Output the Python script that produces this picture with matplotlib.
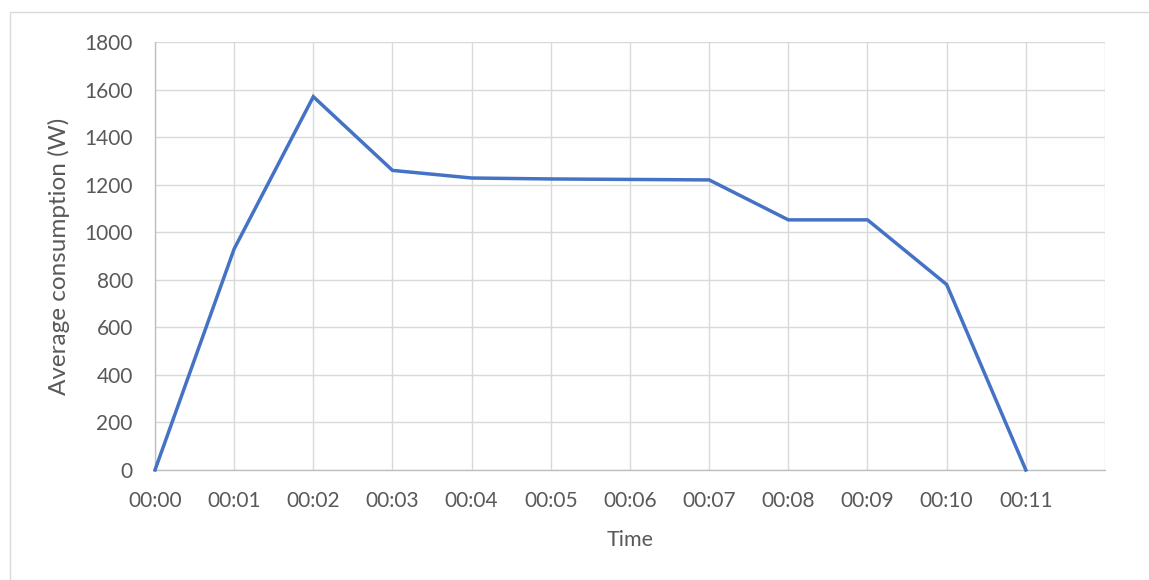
import matplotlib
matplotlib.use('Agg')
import matplotlib.pyplot as plt
from matplotlib.patches import Rectangle

# ── 資料 ──────────────────────────────────────────────
times = ['00:00', '00:01', '00:02', '00:03', '00:04', '00:05',
         '00:06', '00:07', '00:08', '00:09', '00:10', '00:11']
consumption = [0, 930, 1570, 1260, 1228, 1224, 1222, 1220, 1052, 1052, 780, 0]
y_ticks = [0, 200, 400, 600, 800, 1000, 1200, 1400, 1600, 1800]

TEXT = '#595959'
GRID = '#d9d9d9'
LINE = '#4472C4'

plt.rcParams['font.family'] = ['Lato', 'DejaVu Sans']

W, H = 1149, 580
fig = plt.figure(figsize=(W / 100, H / 100), dpi=100)
fig.patch.set_facecolor('white')
# 圖表外框
fig.add_artist(Rectangle((10 / W, -0.05), 1.2, 1 - 12 / H + 0.05,
                         transform=fig.transFigure, fill=False,
                         edgecolor=GRID, linewidth=1.0))

ax = fig.add_axes([155 / W, (H - 470) / H, 950 / W, 428 / H])
x = list(range(len(times)))
ax.plot(x, consumption, color=LINE, linewidth=2.5, solid_joinstyle='miter',
        clip_on=False, zorder=3)

ax.set_xlim(0, len(times))
ax.set_ylim(0, 1800)
ax.set_xticks(range(len(times) + 1))
ax.set_xticklabels(times + [''])
ax.set_yticks(y_ticks)
ax.grid(True, color=GRID, linewidth=1.0)
ax.set_axisbelow(True)
ax.tick_params(length=0, colors=TEXT, labelsize=15)
ax.tick_params(axis='x', pad=15)
ax.tick_params(axis='y', pad=16)
for s in ['top', 'right']:
    ax.spines[s].set_visible(False)
for s in ['left', 'bottom']:
    ax.spines[s].set_color('#bfbfbf')
    ax.spines[s].set_linewidth(1.0)

ax.set_xlabel('Time', color=TEXT, fontsize=15.5, labelpad=14)
ax.set_ylabel('Average consumption (W)', color=TEXT, fontsize=17.5, labelpad=10)

fig.savefig('out.png', dpi=100)
